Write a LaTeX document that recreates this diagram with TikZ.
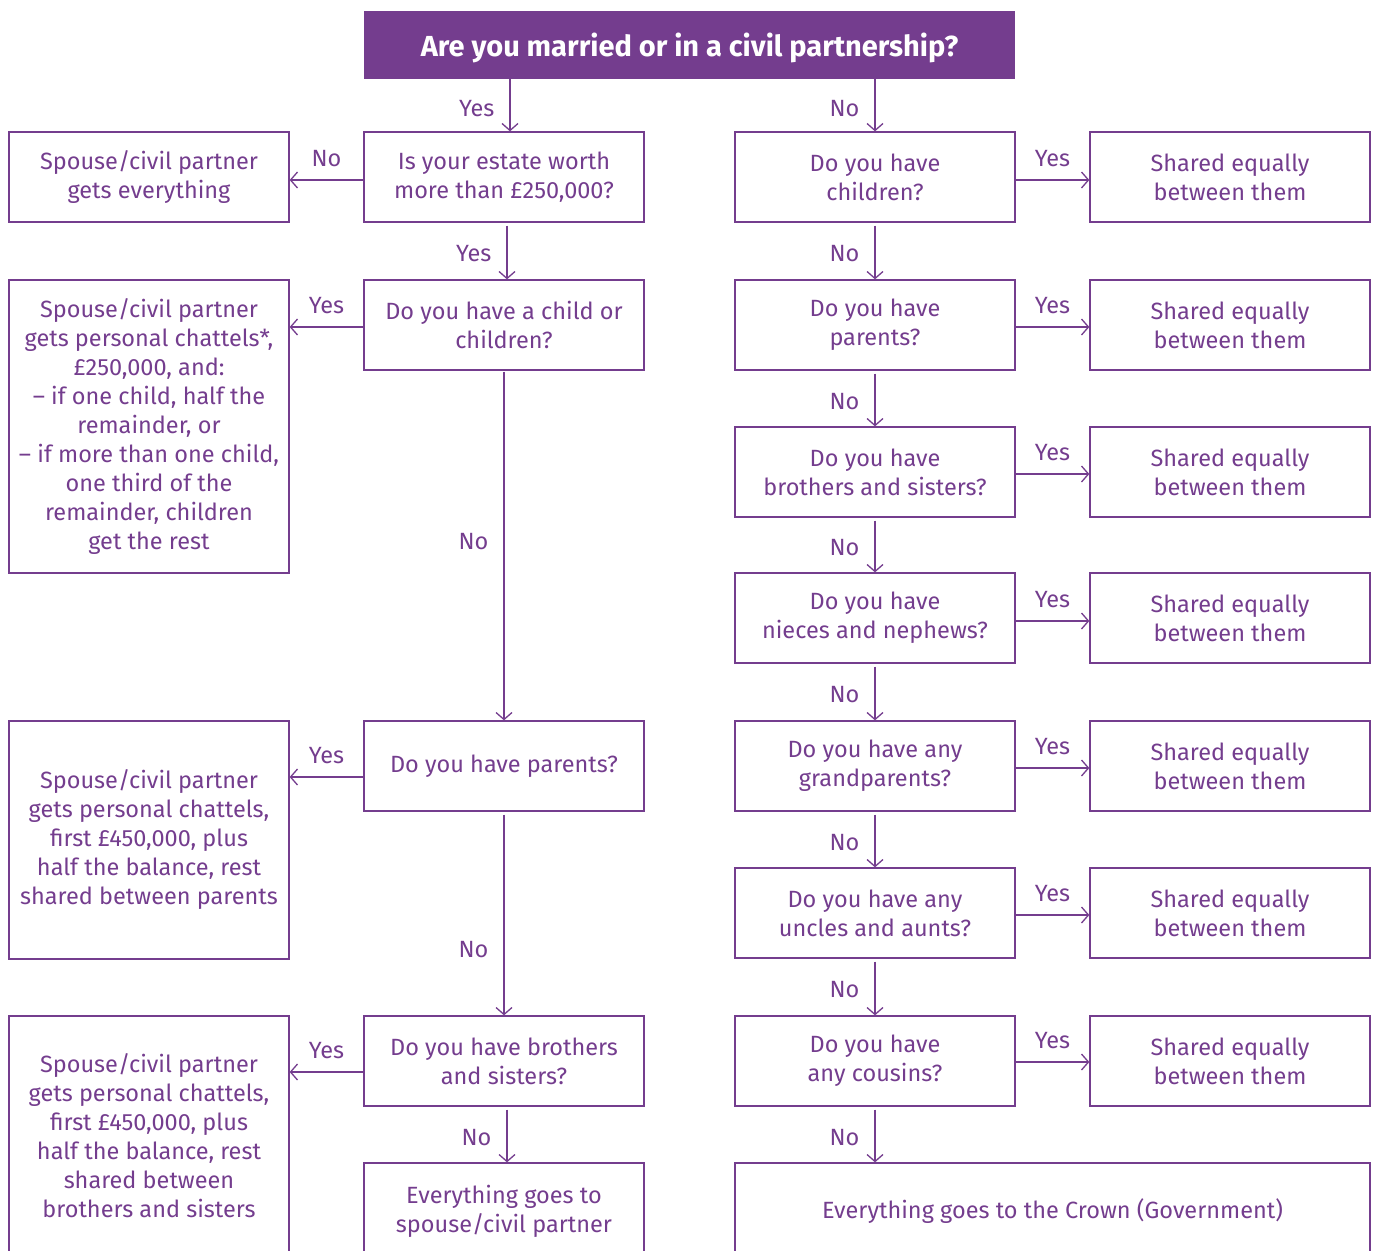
\documentclass[tikz,border=0pt]{standalone}
\usepackage{fontspec}
\setmainfont{Fira Sans}
\usetikzlibrary{arrows.meta,calc}
\definecolor{brandpurple}{RGB}{116,61,142}
\begin{document}
\begin{tikzpicture}[x=1pt,y=-1pt,
 box/.style={draw=brandpurple, line width=1.3pt, text=brandpurple, align=center,
   font=\fontsize{23.5}{29}\selectfont, minimum width=280pt, minimum height=90pt, inner sep=0pt},
 lbl/.style={text=brandpurple, font=\fontsize{23.5}{29}\selectfont, inner sep=0pt},
 arr/.style={draw=brandpurple, line width=1.3pt,
   -{Straight Barb[length=7pt,width=16pt,line width=1.3pt]}},
 vlbl/.style={lbl, anchor=east, xshift=-15pt, yshift=-3pt},
 hlbl/.style={lbl, anchor=south, yshift=13pt},
]
\useasboundingbox (0,0) rectangle (1378,1250);
\clip (0,0) rectangle (1378,1250);

% title
\node[fill=brandpurple, minimum width=651pt, minimum height=68pt, inner sep=0pt, text=white,
  text depth=0pt, font=\bfseries\fontsize{29}{30}\selectfont] (title) at (689.5,45)
  {Are you married or in a civil partnership?};

% middle column
\node[box] (estate) at (504,177) {Is your estate worth\\more than £250,000?};
\node[box] (child) at (504,325) {Do you have a child or\\children?};
\node[box] (mparents) at (504,766) {Do you have parents?};
\node[box] (msib) at (504,1061) {Do you have brothers\\and sisters?};
\node[box, minimum height=96pt] (spouse) at (504,1211) {Everything goes to\\spouse/civil partner};

% left column
\node[box] (l1) at (149,177) {Spouse/civil partner\\gets everything};
\node[box, minimum height=293pt] (l2) at (149,426.5) {Spouse/civil partner\\gets personal chattels*,\\£250,000, and:\\– if one child, half the\\remainder, or\\– if more than one child,\\one third of the\\remainder, children\\get the rest};
\node[box, minimum height=238pt] (l3) at (149,840) {Spouse/civil partner\\gets personal chattels,\\first £450,000, plus\\half the balance, rest\\shared between parents};
\node[box, minimum height=240pt] (l4) at (149,1136) {Spouse/civil partner\\gets personal chattels,\\first £450,000, plus\\half the balance, rest\\shared between\\brothers and sisters};

% right-middle column
\node[box] (rchildren) at (875,177) {Do you have\\children?};
\node[box] (rparents) at (875,325) {Do you have\\parents?};
\node[box] (rsib) at (875,472) {Do you have\\brothers and sisters?};
\node[box] (rnieces) at (875,618) {Do you have\\nieces and nephews?};
\node[box] (rgrand) at (875,766) {Do you have any\\grandparents?};
\node[box] (runcles) at (875,913) {Do you have any\\uncles and aunts?};
\node[box] (rcousins) at (875,1061) {Do you have\\any cousins?};
\node[box, minimum width=635pt, minimum height=96pt] (crown) at (1052.5,1211) {Everything goes to the Crown (Government)};

% right column
\node[box] (s1) at (1230,177) {Shared equally\\between them};
\node[box] (s2) at (1230,325) {Shared equally\\between them};
\node[box] (s3) at (1230,472) {Shared equally\\between them};
\node[box] (s4) at (1230,618) {Shared equally\\between them};
\node[box] (s5) at (1230,766) {Shared equally\\between them};
\node[box] (s6) at (1230,913) {Shared equally\\between them};
\node[box] (s7) at (1230,1061) {Shared equally\\between them};

% middle vertical arrows
\draw[arr] ($(title.south -| estate.north)+(6,0)$) -- node[vlbl]{Yes} ($(estate.north)+(6,0)$);
\draw[arr, shorten <=3pt] ($(estate.south)+(3,0)$) -- node[vlbl]{Yes} ($(child.north)+(3,0)$);
\draw[arr, shorten <=1pt] (child.south) -- node[vlbl, pos=0.48]{No} (mparents.north);
\draw[arr, shorten <=3pt] (mparents.south) -- node[vlbl, pos=0.66]{No} (msib.north);
\draw[arr, shorten <=3pt] ($(msib.south)+(3,0)$) -- node[vlbl]{No} ($(spouse.north)+(3,0)$);

% left horizontal arrows
\draw[arr] ($(estate.west)+(0,3)$) coordinate (a1) -- node[hlbl]{No} (a1 -| l1.east);
\draw[arr] ($(child.west)+(0,2)$) coordinate (a2) -- node[hlbl]{Yes} (a2 -| l2.east);
\draw[arr] ($(mparents.west)+(0,11)$) coordinate (a3) -- node[hlbl]{Yes} (a3 -| l3.east);
\draw[arr] ($(msib.west)+(0,11)$) coordinate (a4) -- node[hlbl]{Yes} (a4 -| l4.east);

% right vertical arrows
\draw[arr] (title.south -| rchildren.north) -- node[vlbl]{No} (rchildren.north);
\draw[arr, shorten <=3pt] (rchildren.south) -- node[vlbl]{No} (rparents.north);
\draw[arr, shorten <=3pt] (rparents.south) -- node[vlbl]{No} (rsib.north);
\draw[arr, shorten <=3pt] (rsib.south) -- node[vlbl]{No} (rnieces.north);
\draw[arr, shorten <=3pt] (rnieces.south) -- node[vlbl]{No} (rgrand.north);
\draw[arr, shorten <=3pt] (rgrand.south) -- node[vlbl]{No} (runcles.north);
\draw[arr, shorten <=3pt] (runcles.south) -- node[vlbl]{No} (rcousins.north);
\draw[arr, shorten <=3pt] (rcousins.south) -- node[vlbl]{No} (rcousins.south |- crown.north);

% right horizontal arrows
\draw[arr] ($(rchildren.east)+(0,3)$) coordinate (b1) -- node[hlbl]{Yes} (b1 -| s1.west);
\draw[arr] ($(rparents.east)+(0,2)$) coordinate (b2) -- node[hlbl]{Yes} (b2 -| s2.west);
\draw[arr] ($(rsib.east)+(0,2)$) coordinate (b3) -- node[hlbl]{Yes} (b3 -| s3.west);
\draw[arr] ($(rnieces.east)+(0,3)$) coordinate (b4) -- node[hlbl]{Yes} (b4 -| s4.west);
\draw[arr] ($(rgrand.east)+(0,2)$) coordinate (b5) -- node[hlbl]{Yes} (b5 -| s5.west);
\draw[arr] ($(runcles.east)+(0,2)$) coordinate (b6) -- node[hlbl]{Yes} (b6 -| s6.west);
\draw[arr] ($(rcousins.east)+(0,1)$) coordinate (b7) -- node[hlbl]{Yes} (b7 -| s7.west);
\end{tikzpicture}
\end{document}
